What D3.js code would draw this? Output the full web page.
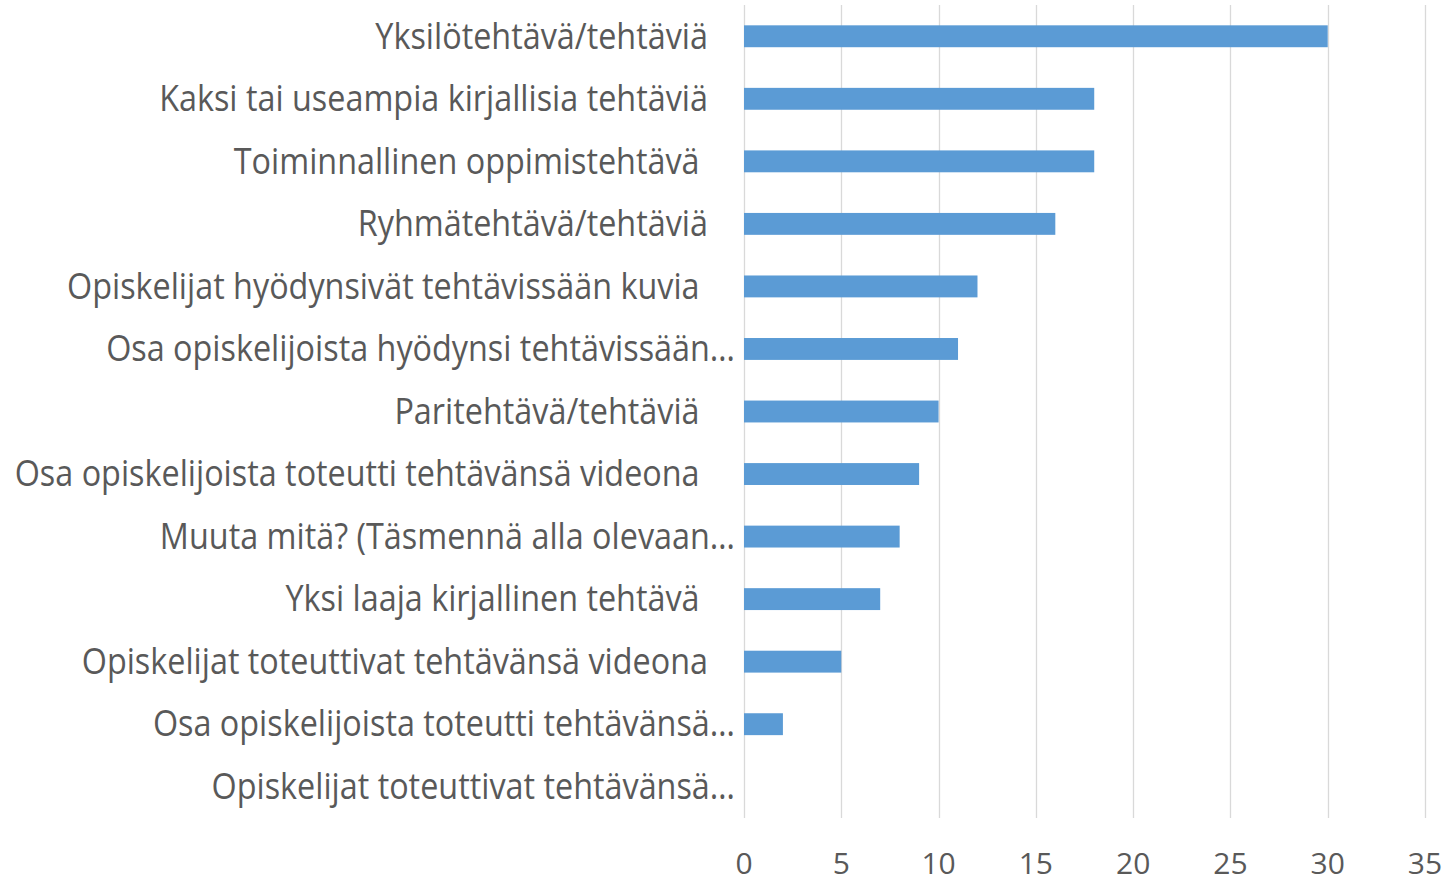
<!DOCTYPE html>
<html>
<head>
<meta charset="utf-8">
<script src="https://cdn.jsdelivr.net/npm/d3@7"></script>
<style>
  body { margin: 0; background: #fff; }
  text { font-family: "Open Sans", sans-serif; fill: #595959; white-space: pre; }
</style>
</head>
<body>
<svg id="chart" width="1450" height="882"></svg>
<script>
// categories, top to bottom (trailing spaces kept as in the source sheet)
const categories = [
    "Yksilötehtävä/tehtäviä",
    "Kaksi tai useampia kirjallisia tehtäviä",
    "Toiminnallinen oppimistehtävä ",
    "Ryhmätehtävä/tehtäviä",
    "Opiskelijat hyödynsivät tehtävissään kuvia ",
    "Osa opiskelijoista hyödynsi tehtävissään…",
    "Paritehtävä/tehtäviä ",
    "Osa opiskelijoista toteutti tehtävänsä videona ",
    "Muuta mitä? (Täsmennä alla olevaan…",
    "Yksi laaja kirjallinen tehtävä ",
    "Opiskelijat toteuttivat tehtävänsä videona",
    "Osa opiskelijoista toteutti tehtävänsä…",
    "Opiskelijat toteuttivat tehtävänsä…"
];
const values = [30, 18, 18, 16, 12, 11, 10, 9, 8, 7, 5, 2, 0];
const ticks = [0, 5, 10, 15, 20, 25, 30, 35];

const width = 1450, height = 882;
const margin = {left: 744, right: 25, top: 5, bottom: 64};

const svg = d3.select("#chart");

const x = d3.scaleLinear().domain([0, 35]).range([margin.left, width - margin.right]);
const y = d3.scaleBand().domain(categories).range([margin.top, height - margin.bottom]).paddingInner(0.65).paddingOuter(0.325);

// gridlines
svg.append("g").selectAll("line")
    .data(ticks).enter()
    .append("line")
    .attr("x1", d => Math.round(x(d)) + 0.5).attr("x2", d => Math.round(x(d)) + 0.5)
    .attr("y1", margin.top).attr("y2", height - margin.bottom)
    .style("stroke", "#d9d9d9")
    .style("stroke-width", 1.3);

// bars
svg.append("g").selectAll("rect")
    .data(values).enter()
    .append("rect")
    .attr("x", x(0))
    .attr("y", (d, i) => y(categories[i]))
    .attr("width", d => x(d) - x(0))
    .attr("height", y.bandwidth())
    .style("fill", "#5b9bd5");

// category labels - the source font is narrow, so squeeze Open Sans a bit
const labels = svg.append("g").selectAll("text")
    .data(categories).enter()
    .append("text")
    .attr("text-anchor", "end")
    .attr("dy", "0.34em")
    .style("font-size", "36px")
    .text(d => d);

const probe = labels.filter((d, i) => i == 7).node();
const probeW = probe.getComputedTextLength() - probe.getSubStringLength(categories[7].length - 1, 1);
const k = 685 / probeW;

labels.attr("transform", d => {
    const lx = d.endsWith("…") ? x(0) - 9 : x(0) - 36;
    return `translate(${lx},${y(d) + y.bandwidth() / 2}) scale(${k},1)`;
});

// value axis labels
svg.append("g").selectAll("text")
    .data(ticks).enter()
    .append("text")
    .attr("x", d => x(d))
    .attr("y", 874)
    .attr("text-anchor", "middle")
    .style("font-size", "30px")
    .text(d => d);
</script>
</body>
</html>
